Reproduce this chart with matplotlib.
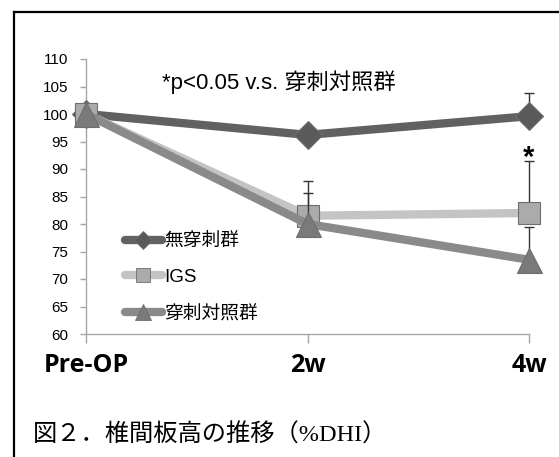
import matplotlib.pyplot as plt
from matplotlib.lines import Line2D

# --- data ---
timepoints = ['Pre-OP', '2w', '4w']
groups = ['無穿刺群', 'IGS', '穿刺対照群']
no_puncture = [100, 96.2, 99.6]
igs = [100, 81.5, 82.0]
puncture_ctrl = [100, 80.0, 73.5]
err_no_puncture = [0, 0, 4.2]
err_igs = [0, 6.3, 9.4]
err_puncture_ctrl = [0, 5.7, 6.0]

W, H = 559, 457
fig = plt.figure(figsize=(W / 100, H / 100), dpi=100)
fig.patch.set_facecolor('white')

# frame around the figure (only top and left visible)
fig.add_artist(Line2D([14 / W, 14 / W], [1 - 12 / H, 0], transform=fig.transFigure,
                      color='black', lw=1.6))
fig.add_artist(Line2D([14 / W, 1], [1 - 12 / H, 1 - 12 / H], transform=fig.transFigure,
                      color='black', lw=1.6))

ax = fig.add_axes([86 / W, 1 - 334 / H, (529 - 86) / W, (334 - 59) / H])
x = list(range(len(timepoints)))

styles = [
    dict(series=no_puncture, err=err_no_puncture, lc='#616161', mfc='#5a5a5a', mk='D', ms=14),
    dict(series=igs, err=err_igs, lc='#c4c4c4', mfc='#ababab', mk='s', ms=16.5),
    dict(series=puncture_ctrl, err=err_puncture_ctrl, lc='#8a8a8a', mfc='#7a7a7a', mk='^', ms=18),
]

handles = []
for i, (name, st) in enumerate(zip(groups, styles)):
    ax.errorbar(x, st['series'], yerr=[[0] * 3, st['err']], fmt='none',
                ecolor='#333333', elinewidth=1.0, capsize=3.5, capthick=1.0,
                zorder=1 + i * 3, clip_on=False)
    ax.plot(x, st['series'], color=st['lc'], lw=6, zorder=2 + i * 3,
            solid_capstyle='butt', clip_on=False)
    ax.plot(x, st['series'], ls='none', marker=st['mk'], ms=st['ms'],
            mfc=st['mfc'], mec='#6e6e6e', mew=0.8, zorder=3 + i * 3, clip_on=False)
    handles.append(Line2D([], [], color=st['lc'], lw=6, marker=st['mk'],
                          ms=st['ms'] * 0.65, mfc=st['mfc'], mec='#6e6e6e', mew=0.6,
                          solid_capstyle='round'))

ax.set_xlim(0, 2)
ax.set_ylim(60, 110)
ax.set_yticks(range(60, 111, 5))
ax.set_xticks(x)
ax.set_xticklabels(timepoints, fontfamily='Open Sans', fontweight='bold', fontsize=18)
for lab in ax.get_yticklabels():
    lab.set_fontfamily('Liberation Sans')
    lab.set_fontsize(11)

for side in ['top', 'right']:
    ax.spines[side].set_visible(False)
for side in ['left', 'bottom']:
    ax.spines[side].set_color('#a6a6a6')
    ax.spines[side].set_linewidth(1.0)
ax.tick_params(axis='y', length=4, width=1.0, color='#a6a6a6', pad=9)
ax.tick_params(axis='x', length=6.5, width=1.0, color='#a6a6a6', pad=7)

leg = ax.legend(handles, groups, loc='upper left', bbox_to_anchor=(0.07, 0.395),
                frameon=False, handlelength=2.0, handletextpad=0.1,
                labelspacing=1.0, borderaxespad=0,
                prop={'family': ['Liberation Sans', 'Noto Sans CJK JP'], 'size': 13.5})

ax.text(0.343, 105.8, '*p<0.05 v.s. 穿刺対照群', va='center', ha='left',
        fontsize=16, family=['Liberation Sans', 'Noto Sans CJK JP'])
ax.text(2, 92.0, '*', ha='center', va='center', fontsize=21, fontweight='bold',
        family='Liberation Sans', clip_on=False)

fig.text(33 / W, 1 - 435 / H, '図２．椎間板高の推移（%DHI）', ha='left', va='center',
         fontsize=17.5, family=['Liberation Serif', 'Noto Sans CJK JP'])

fig.savefig('out.png', dpi=100)
